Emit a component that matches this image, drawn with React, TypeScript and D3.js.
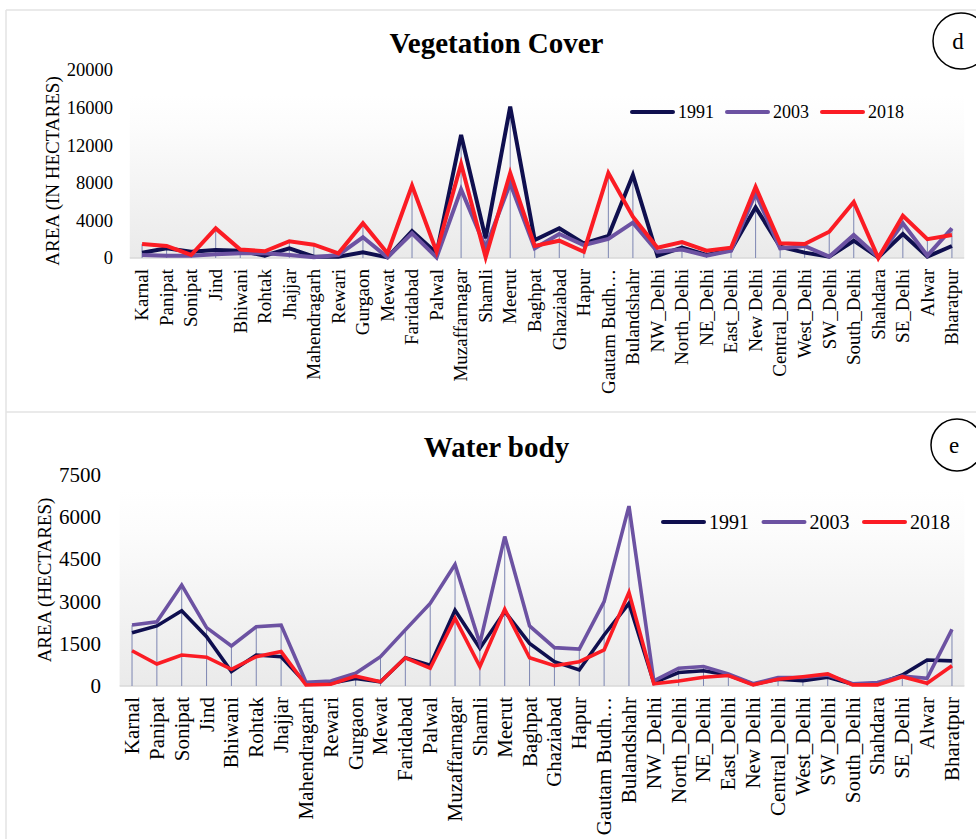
import React from "react";
import * as d3 from "d3";

const categories = [
  "Karnal", "Panipat", "Sonipat", "Jind", "Bhiwani", "Rohtak", "Jhajjar", "Mahendragarh",
  "Rewari", "Gurgaon", "Mewat", "Faridabad", "Palwal", "Muzaffarnagar", "Shamli", "Meerut",
  "Baghpat", "Ghaziabad", "Hapur", "Gautam Budh…", "Bulandshahr", "NW_Delhi", "North_Delhi",
  "NE_Delhi", "East_Delhi", "New Delhi", "Central_Delhi", "West_Delhi", "SW_Delhi",
  "South_Delhi", "Shahdara", "SE_Delhi", "Alwar", "Bharatpur",
];

const seriesNames = ["1991", "2003", "2018"];
const seriesColors = ["#0f0f4f", "#6c52a2", "#fb1c24"];

const veg1991 = [560, 1030, 670, 850, 780, 250, 1030, 140, 140, 600, 70, 2870, 500, 13090, 2090, 16100, 1910, 3160, 1560, 2340, 8830, 250, 1100, 320, 850, 5390, 1200, 570, 140, 1840, 70, 2550, 140, 1280];
const veg2003 = [320, 250, 250, 390, 500, 500, 320, 70, 320, 2200, 70, 2620, 70, 7300, 1100, 7950, 1030, 2550, 1380, 2020, 3760, 670, 900, 250, 780, 6880, 1030, 1280, 140, 2450, 70, 3690, 250, 3160];
const veg2018 = [1500, 1280, 320, 3150, 900, 720, 1780, 1420, 500, 3700, 500, 7700, 670, 10000, 70, 9050, 1280, 1840, 670, 9050, 4400, 1100, 1700, 780, 1100, 7550, 1560, 1490, 2800, 5950, 0, 4500, 2000, 2450];
const vegTicks = [0, 4000, 8000, 12000, 16000, 20000];

const wat1991 = [1890, 2130, 2670, 1750, 510, 1100, 1040, 95, 95, 270, 150, 1000, 740, 2690, 1340, 2640, 1510, 860, 570, 1810, 2930, 120, 480, 540, 390, 60, 240, 190, 310, 60, 60, 390, 920, 890];
const wat2003 = [2160, 2280, 3580, 2070, 1420, 2100, 2160, 130, 180, 450, 1040, 1990, 2930, 4310, 1510, 5300, 2130, 1360, 1310, 2990, 6380, 180, 630, 690, 430, 80, 300, 300, 390, 80, 120, 350, 270, 2010];
const wat2018 = [1250, 780, 1100, 1020, 590, 1040, 1220, 35, 60, 350, 150, 1000, 630, 2400, 690, 2720, 1000, 720, 860, 1280, 3320, 80, 180, 310, 370, 40, 240, 330, 430, 40, 40, 330, 95, 720];
const watTicks = [0, 1500, 3000, 4500, 6000, 7500];

const FONT = "'Liberation Serif', 'Times New Roman', serif";

type PanelProps = {
  id: string;
  title: string;
  titleY: number;
  letter: string;
  circle: [number, number, number];
  yLabel: string;
  yLabelPos: [number, number];
  ticks: number[];
  tickX: number;
  tickFont: number;
  xRange: [number, number];
  yRange: [number, number];
  bgTop: number;
  series: number[][];
  labelFont: number;
  legendX: number;
  legendY: number;
  legendFont: number;
  legendStep: number;
  lineWidth: number;
};

function Panel(p: PanelProps) {
  const x = d3.scaleBand<string>().domain(categories).range(p.xRange).padding(0);
  const y = d3.scaleLinear().domain([p.ticks[0], p.ticks[p.ticks.length - 1]]).range(p.yRange);
  const cx = (c: string) => (x(c) as number) + x.bandwidth() / 2;
  const line = d3
    .line<number>()
    .x((_, i) => cx(categories[i]))
    .y((v) => y(v));
  const base = y(0);
  const gid = "grad-" + p.id;
  return (
    <g>
      <defs>
        <linearGradient id={gid} x1="0" y1="0" x2="0" y2="1">
          <stop offset="0" stopColor="#ffffff" />
          <stop offset="0.2" stopColor="#fcfcfc" />
          <stop offset="1" stopColor="#eaeaea" />
        </linearGradient>
      </defs>
      <rect x={p.xRange[0]} y={p.bgTop} width={p.xRange[1] - p.xRange[0]} height={base - p.bgTop} fill={`url(#${gid})`} />
      <line x1={p.xRange[0]} x2={p.xRange[1]} y1={base} y2={base} stroke="#d9d9d9" strokeWidth={1.5} />
      {categories.map((c, i) => {
        const m = Math.max(...p.series.map((s) => s[i]));
        return <line key={c} x1={cx(c)} x2={cx(c)} y1={base} y2={y(m)} stroke="#7d86b2" strokeWidth={1} />;
      })}
      {p.series.map((s, k) => (
        <path key={k} d={line(s) || ""} fill="none" stroke={seriesColors[k]} strokeWidth={p.lineWidth} strokeLinejoin="miter" />
      ))}
      {p.ticks.map((t) => (
        <text key={t} x={p.tickX} y={y(t)} dy="0.35em" textAnchor="end" fontFamily={FONT} fontSize={p.tickFont} fill="#000">
          {t}
        </text>
      ))}
      {categories.map((c) => (
        <text
          key={c}
          transform={`translate(${cx(c)},${base + 11}) rotate(-90)`}
          dy="0.33em"
          textAnchor="end"
          fontFamily={FONT}
          fontSize={p.labelFont}
          fill="#000"
        >
          {c}
        </text>
      ))}
      <text
        transform={`translate(${p.yLabelPos[0]},${p.yLabelPos[1]}) rotate(-90)`}
        dy="0.35em"
        textAnchor="middle"
        fontFamily={FONT}
        fontSize={19}
        fill="#000"
      >
        {p.yLabel}
      </text>
      <text x={496.5} y={p.titleY} textAnchor="middle" fontFamily={FONT} fontWeight="bold" fontSize={29} fill="#000">
        {p.title}
      </text>
      <circle cx={p.circle[0]} cy={p.circle[1]} r={p.circle[2]} fill="none" stroke="#000" strokeWidth={1.5} />
      <text x={p.circle[0] - 3} y={p.circle[1]} dy="0.35em" textAnchor="middle" fontFamily={FONT} fontSize={23} fill="#000">
        {p.letter}
      </text>
      {seriesNames.map((n, k) => {
        const lx = p.legendX + k * p.legendStep;
        return (
          <g key={n}>
            <line x1={lx} x2={lx + 41} y1={p.legendY} y2={p.legendY} stroke={seriesColors[k]} strokeWidth={4} strokeLinecap="round" />
            <text x={lx + 46} y={p.legendY} dy="0.35em" fontFamily={FONT} fontSize={p.legendFont} fill="#000">
              {n}
            </text>
          </g>
        );
      })}
    </g>
  );
}

export default function App() {
  return (
    <svg
      width={976}
      height={839}
      style={{ position: "absolute", left: 0, top: 0, background: "#fff", display: "block" }}
    >
      <rect x={0} y={0} width={976} height={839} fill="#fff" />
      <line x1={6} x2={976} y1={10} y2={10} stroke="#e3e3e3" strokeWidth={1.5} />
      <line x1={6} x2={6} y1={10} y2={839} stroke="#e3e3e3" strokeWidth={1.5} />
      <line x1={6} x2={976} y1={412} y2={412} stroke="#e3e3e3" strokeWidth={1.5} />
      <Panel
        id="veg"
        title="Vegetation Cover"
        titleY={53}
        letter="d"
        circle={[961, 41, 28]}
        yLabel="AREA (IN HECTARES)"
        yLabelPos={[52, 171]}
        ticks={vegTicks}
        tickX={113}
        tickFont={18.5}
        xRange={[129.8, 964.2]}
        yRange={[258, 70]}
        bgTop={95}
        series={[veg1991, veg2003, veg2018]}
        labelFont={19}
        legendX={632}
        legendY={112}
        legendFont={18}
        legendStep={95}
        lineWidth={4}
      />
      <Panel
        id="wat"
        title="Water body"
        titleY={457}
        letter="e"
        circle={[957, 445, 26]}
        yLabel="AREA (HECTARES)"
        yLabelPos={[44, 580]}
        ticks={watTicks}
        tickX={101}
        tickFont={21}
        xRange={[119.6, 964.4]}
        yRange={[686, 474.5]}
        bgTop={490}
        series={[wat1991, wat2003, wat2018]}
        labelFont={21}
        legendX={663}
        legendY={522}
        legendFont={20}
        legendStep={100.5}
        lineWidth={3.6}
      />
    </svg>
  );
}
